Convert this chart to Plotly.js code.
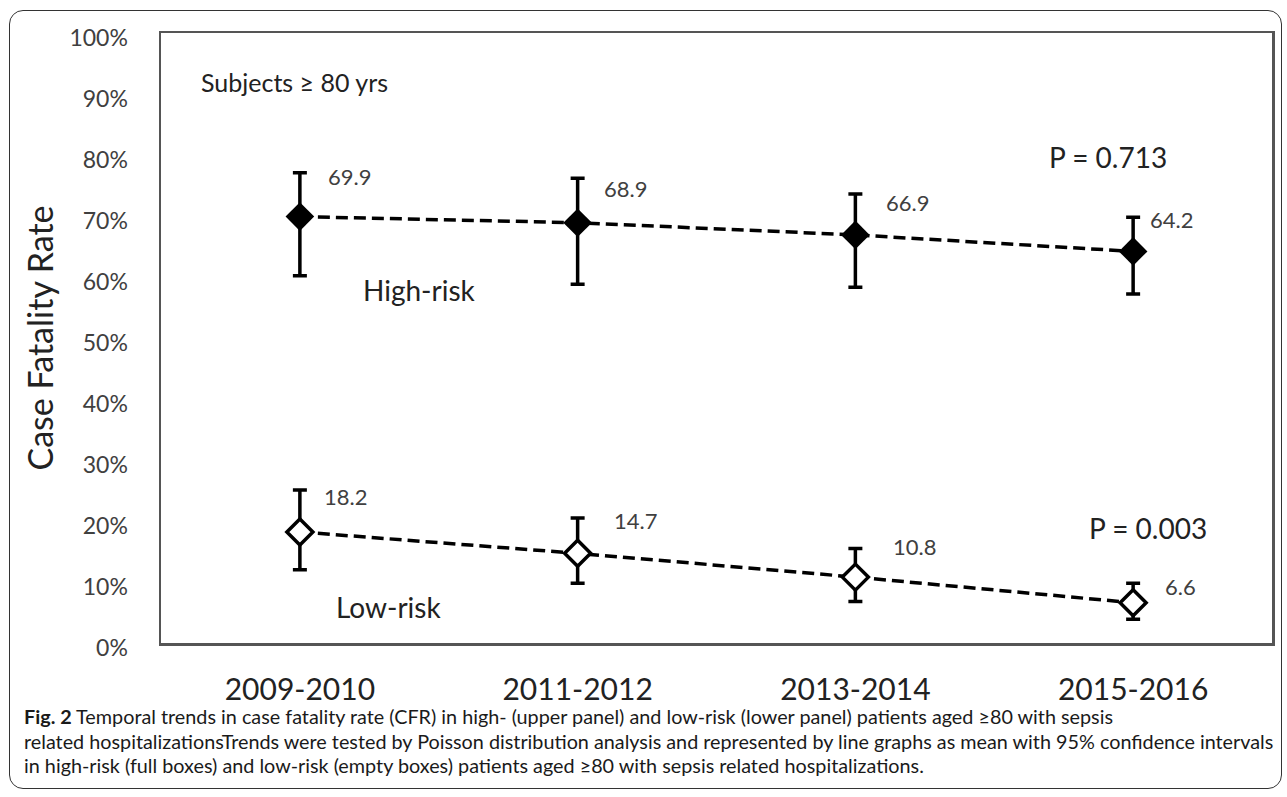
<!DOCTYPE html>
<html>
<head>
<meta charset="utf-8">
<script src="https://cdn.plot.ly/plotly-3.0.1.min.js"></script>
<style>
  html, body { margin: 0; padding: 0; background: #fff; }
  #wrap { position: relative; width: 1287px; height: 797px; }
  #chart { position: absolute; left: 0; top: 0; width: 1287px; height: 797px; }
  #frame { position: absolute; left: 9px; top: 10px; width: 1273px; height: 779px;
           border: 1.5px solid #333; border-radius: 14px; pointer-events: none; box-sizing: border-box; }
</style>
</head>
<body>
<div id="wrap">
  <div id="chart"></div>
  <div id="frame"></div>
</div>
<script>
// ---- data ----
var periods = ["2009-2010", "2011-2012", "2013-2014", "2015-2016"];
var highRisk = [69.9, 68.9, 66.9, 64.2];
var highUpper = [77.1, 76.2, 73.6, 69.8];
var highLower = [60.2, 58.8, 58.3, 57.2];
var lowRisk = [18.2, 14.7, 10.8, 6.6];
var lowUpper = [25.1, 20.5, 15.5, 9.8];
var lowLower = [12.0, 9.8, 6.8, 3.9];
var yTicks = [0, 10, 20, 30, 40, 50, 60, 70, 80, 90, 100];

// ---- styling / layout ----
var FONT = "Lato, 'Open Sans', sans-serif";
var TXT = "#404040";

function diff(a, b) { return a.map(function (v, i) { return +(v - b[i]).toFixed(2); }); }

var idx = periods.map(function (_, i) { return i; });

var traceHigh = {
  x: idx, y: highRisk, type: "scatter", mode: "lines+markers",
  line: { color: "#000", width: 3.5, dash: "12px,6px" },
  marker: { symbol: "diamond", size: 22, color: "#000", line: { color: "#000", width: 0 } },
  error_y: { type: "data", symmetric: false, array: diff(highUpper, highRisk), arrayminus: diff(highRisk, highLower),
             color: "#000", thickness: 3.5, width: 7 },
  hoverinfo: "skip", showlegend: false
};
var traceLow = {
  x: idx, y: lowRisk, type: "scatter", mode: "lines+markers",
  line: { color: "#000", width: 3.5, dash: "12px,6px" },
  marker: { symbol: "diamond", size: 20, color: "#fff", line: { color: "#000", width: 3.5 } },
  error_y: { type: "data", symmetric: false, array: diff(lowUpper, lowRisk), arrayminus: diff(lowRisk, lowLower),
             color: "#000", thickness: 3.5, width: 7 },
  hoverinfo: "skip", showlegend: false
};

var highShift = [[50, -40], [48, -34], [52, -32], [38, -32]];
var lowShift = [[46, -35], [58, -33], [59, -31], [47, -16]];

var annotations = [];
highRisk.forEach(function (v, i) {
  annotations.push({ x: i, y: v, xref: "x", yref: "y", text: v.toFixed(1), showarrow: false,
    xshift: highShift[i][0], yshift: -highShift[i][1], font: { family: FONT, size: 22, color: TXT } });
});
lowRisk.forEach(function (v, i) {
  annotations.push({ x: i, y: v, xref: "x", yref: "y", text: v.toFixed(1), showarrow: false,
    xshift: lowShift[i][0], yshift: -lowShift[i][1], font: { family: FONT, size: 22, color: TXT } });
});

function txt(text, px, yv, size) {
  return { x: (px - 161) / 1111, xref: "paper", y: yv, yref: "y", text: text, showarrow: false,
           xanchor: "left", yanchor: "middle", font: { family: FONT, size: size, color: "#222" } };
}
annotations.push(txt("Subjects \u2265 80 yrs", 199, 92.0, 25));
annotations.push(txt("High-risk", 361, 57.9, 28));
annotations.push(txt("Low-risk", 334, 5.9, 28));
annotations.push(txt("P = 0.713", 1047, 79.7, 28));
annotations.push(txt("P = 0.003", 1087, 18.9, 28));

var caption = [
  "<b>Fig. 2</b> Temporal trends in case fatality rate (CFR) in high- (upper panel) and low-risk (lower panel) patients aged \u226580 with sepsis",
  "related hospitalizationsTrends were tested by Poisson distribution analysis and represented by line graphs as mean with 95% confidence intervals",
  "in high-risk (full boxes) and low-risk (empty boxes) patients aged \u226580 with sepsis related hospitalizations."
];
var capY = [716, 741, 765];
caption.forEach(function (t, i) {
  annotations.push({ x: (22 - 161) / 1111, xref: "paper", y: (643 - capY[i]) / 610, yref: "paper",
    text: t, showarrow: false, xanchor: "left", yanchor: "middle", align: "left",
    font: { family: FONT, size: 19.8, color: "#1a1a1a" } });
});

var layout = {
  width: 1287, height: 797,
  margin: { l: 161, r: 15, t: 33, b: 154 },
  paper_bgcolor: "rgba(0,0,0,0)", plot_bgcolor: "#fff",
  xaxis: {
    range: [-0.5, 3.5], tickvals: idx, ticktext: periods, showgrid: false, zeroline: false,
    showline: true, mirror: true, linecolor: "#555", linewidth: 2.5, ticks: "",
    ticklabelstandoff: 18, tickfont: { family: FONT, size: 30, color: "#222" }, fixedrange: true
  },
  yaxis: {
    range: [0, 100], tickvals: yTicks, ticktext: yTicks.map(function (v) { return v + "%"; }),
    showgrid: false, zeroline: false, showline: true, mirror: true, linecolor: "#555", linewidth: 2.5,
    ticks: "", ticklabelstandoff: 26, ticklabelshift: 5,
    tickfont: { family: FONT, size: 23, color: TXT },
    title: { text: "Case Fatality Rate", standoff: 6, font: { family: FONT, size: 34, color: "#222" } },
    fixedrange: true
  },
  annotations: annotations
};

Plotly.newPlot("chart", [traceHigh, traceLow], layout, { staticPlot: true, displayModeBar: false });
</script>
</body>
</html>
